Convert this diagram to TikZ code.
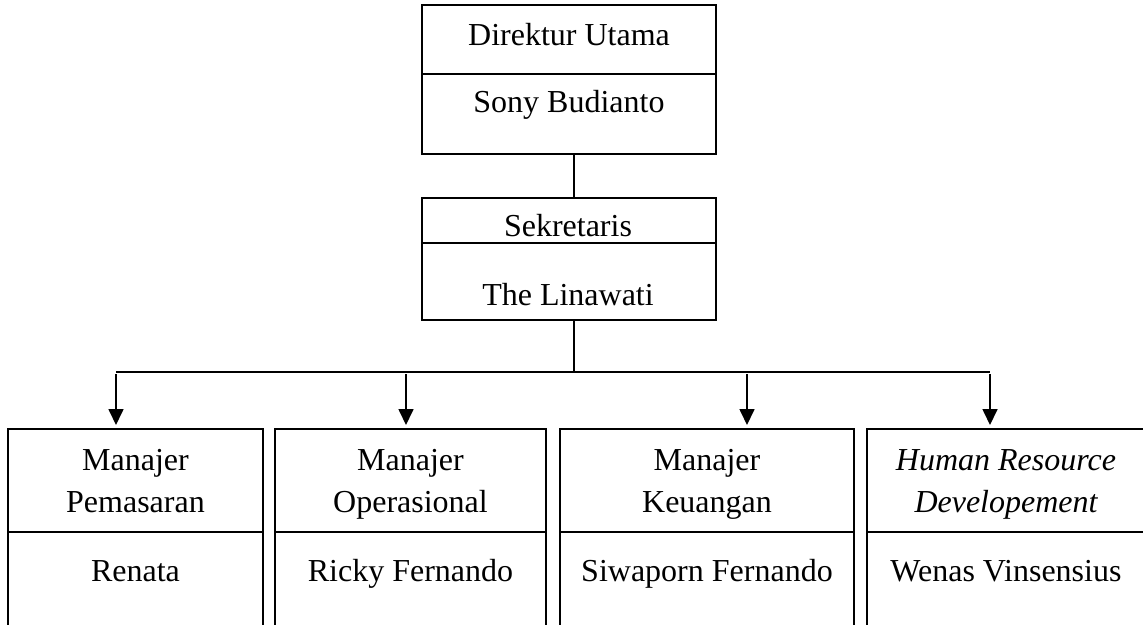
\documentclass[tikz,border=0pt]{standalone}
\usepackage{fontspec}
\setmainfont{Liberation Serif}
\usetikzlibrary{arrows.meta}
\begin{document}
\begin{tikzpicture}[x=1pt,y=-1pt,
  box/.style={draw, line width=1.7pt, inner sep=0pt, outer sep=0pt, anchor=north west},
  lbl/.style={anchor=base, inner sep=0pt, font=\fontsize{32}{42}\selectfont},
  conn/.style={line width=1.7pt},
  arr/.style={line width=1.7pt, -{Triangle[width=15pt,length=16pt]}}]
\clip (0,0) rectangle (1143,624);
% top box
\node[box, minimum width=294pt, minimum height=69pt] (dirT) at (422,5) {};
\node[box, minimum width=294pt, minimum height=80pt] (dirB) at (dirT.south west) {};
\node[lbl] (dirTt) at (569,45) {Direktur Utama};
\node[lbl] (dirBt) at (569,112) {Sony Budianto};
% middle box
\node[box, minimum width=294pt, minimum height=45pt] (midT) at (422,198) {};
\node[box, minimum width=294pt, minimum height=77pt] (midB) at (midT.south west) {};
\node[lbl] (midTt) at (568,236) {Sekretaris};
\node[lbl] (midBt) at (568,305) {The Linawati};
% bottom boxes
\node[box, minimum width=255pt, minimum height=103pt] (m1T) at (8,429) {};
\node[box, minimum width=255pt, minimum height=140pt] (m1B) at (m1T.south west) {};
\node[box, minimum width=271pt, minimum height=103pt] (m2T) at (275,429) {};
\node[box, minimum width=271pt, minimum height=140pt] (m2B) at (m2T.south west) {};
\node[box, minimum width=294pt, minimum height=103pt] (m3T) at (560,429) {};
\node[box, minimum width=294pt, minimum height=140pt] (m3B) at (m3T.south west) {};
\node[box, minimum width=278pt, minimum height=103pt] (m4T) at (867,429) {};
\node[box, minimum width=278pt, minimum height=140pt] (m4B) at (m4T.south west) {};
% bottom texts
\node[lbl] (m1a) at (135.5,470) {Manajer};
\node[lbl] (m1b) at (135.5,512) {Pemasaran};
\node[lbl] (m1n) at (135.5,581) {Renata};
\node[lbl] (m2a) at (410.5,470) {Manajer};
\node[lbl] (m2b) at (410.5,512) {Operasional};
\node[lbl] (m2n) at (410.5,581) {Ricky Fernando};
\node[lbl] (m3a) at (707,470) {Manajer};
\node[lbl] (m3b) at (707,512) {Keuangan};
\node[lbl] (m3n) at (707,581) {Siwaporn Fernando};
\node[lbl] (m4a) at (1006,470) {\itshape Human Resource};
\node[lbl] (m4b) at (1006,512) {\itshape Developement};
\node[lbl] (m4n) at (1006,581) {Wenas Vinsensius};
% connectors
\draw[conn] ([xshift=5pt]dirB.south) -- ([xshift=5pt]midT.north);
\draw[conn] ([xshift=5pt]midB.south) -- ++(0,52) coordinate (bus);
\coordinate (a1) at ([xshift=-19.5pt,yshift=4pt]m1T.north);
\coordinate (a2) at ([xshift=-4.5pt,yshift=4pt]m2T.north);
\coordinate (a3) at ([xshift=40pt,yshift=4pt]m3T.north);
\coordinate (a4) at ([xshift=-16pt,yshift=4pt]m4T.north);
\draw[conn] (bus -| a1) -- (bus -| a4);
\draw[arr] ([yshift=-2pt]bus -| a1) -- (a1);
\draw[arr] ([yshift=-2pt]bus -| a2) -- (a2);
\draw[arr] ([yshift=-2pt]bus -| a3) -- (a3);
\draw[arr] ([yshift=-2pt]bus -| a4) -- (a4);
\end{tikzpicture}
\end{document}
